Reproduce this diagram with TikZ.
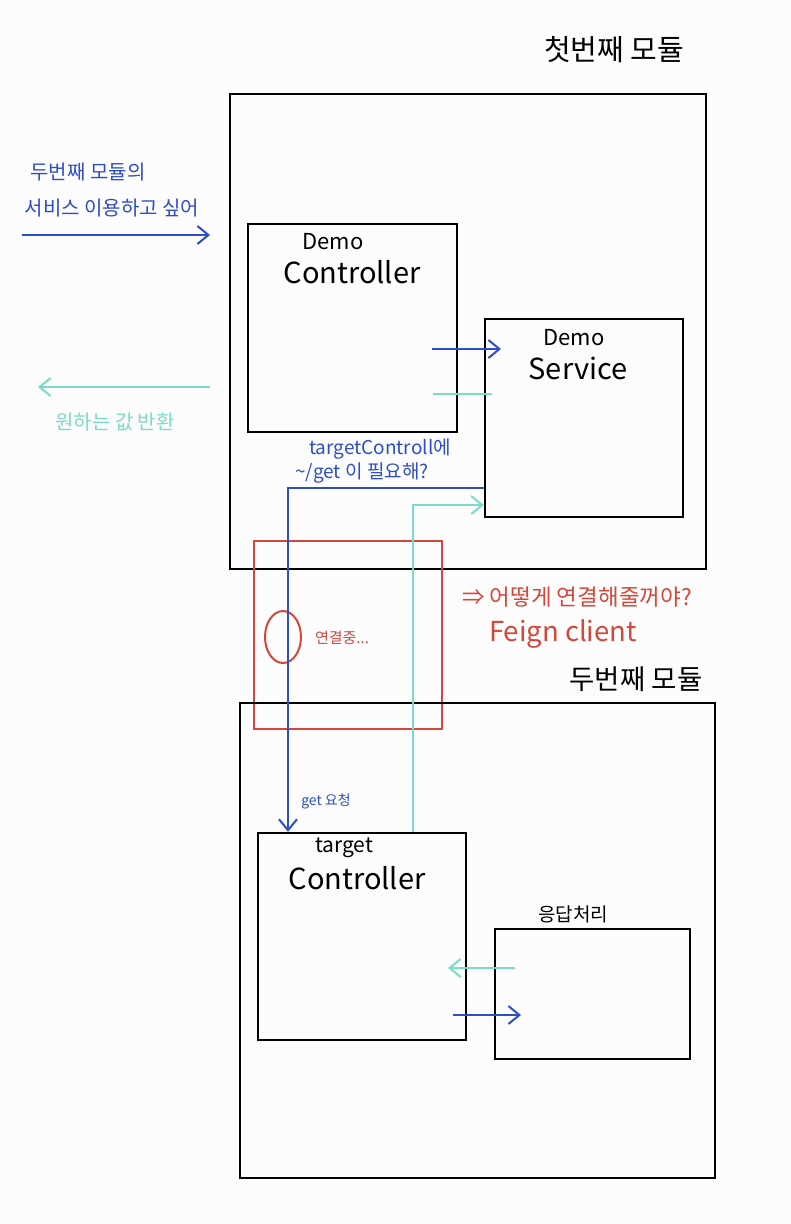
\documentclass[tikz,border=0pt]{standalone}
\usepackage{fontspec}
\setmainfont{Noto Sans CJK KR}
\usetikzlibrary{arrows.meta,calc,shapes.geometric}
\definecolor{pblue}{HTML}{2F4EC4}
\definecolor{pteal}{HTML}{7ADBC9}
\definecolor{pred}{HTML}{D2483B}
\definecolor{bg}{HTML}{FCFCFC}
\tikzset{
  box/.style={draw=black, line width=2.4pt, inner sep=0pt, rectangle},
  redbox/.style={draw=pred, line width=2pt, inner sep=0pt},
  barb/.style={-{Straight Barb[length=11pt,width=18pt,line width=2pt]}},
  bl/.style={draw=pblue, line width=2pt},
  tl/.style={draw=pteal, line width=2pt},
  lbl/.style={inner sep=0pt},
  blk/.style={lbl, text=black},
  blu/.style={lbl, text=pblue},
  tea/.style={lbl, text=pteal},
  rd/.style={lbl, text=pred},
}
\begin{document}
\begin{tikzpicture}[x=1pt,y=-1pt]
\fill[bg] (0,0) rectangle (791,1224);
\useasboundingbox (0,0) rectangle (791,1224);

% boxes
\node[box, minimum width=476pt, minimum height=475pt] (m1) at (468,331.5) {};
\node[box, minimum width=209pt, minimum height=208pt] (dc) at (352.5,328) {};
\node[box, minimum width=198pt, minimum height=198pt] (ds) at (584,418) {};
\node[redbox, minimum width=188pt, minimum height=188pt] (rb) at (348,635) {};
\node[draw=pred, line width=2pt, ellipse, inner sep=0pt, minimum width=36pt, minimum height=52pt] (el) at (283,637) {};
\node[box, minimum width=475pt, minimum height=475pt] (m2) at (477.5,940.5) {};
\node[box, minimum width=208pt, minimum height=207pt] (tc) at (362,936.5) {};
\node[box, minimum width=195pt, minimum height=130pt] (rp) at (592.5,994) {};

% texts
\node[blk, font=\fontsize{29}{31}\selectfont] (t1) at (614,50) {첫번째 모듈};
\node[blu, font=\fontsize{20}{22}\selectfont] (q1) at (88,172) {두번째 모듈의};
\node[blu, font=\fontsize{20}{22}\selectfont] (q2) at (112,208) {서비스 이용하고 싶어};
\node[tea, font=\fontsize{20}{22}\selectfont] (r1) at (115,422) {원하는 값 반환};
\node[blk, font=\fontsize{22}{24}\selectfont] (dct1) at (333,242) {Demo};
\node[blk, font=\fontsize{29}{31}\selectfont] (dct2) at (352,272) {Controller};
\node[blk, font=\fontsize{22}{24}\selectfont] (dst1) at (574,338) {Demo};
\node[blk, font=\fontsize{29}{31}\selectfont] (dst2) at (578,368) {Service};
\node[blu, font=\fontsize{19}{21}\selectfont] (n1) at (380,449) {targetControll에};
\node[blu, font=\fontsize{19}{21}\selectfont] (n2) at (362,473) {\textasciitilde/get 이 필요해?};
\node[rd, font=\fontsize{15}{17}\selectfont] (cn) at (342,638) {연결중...};
\node[rd, font=\fontsize{22.5}{24}\selectfont] (h1) at (577,597) {⇒ 어떻게 연결해줄꺼야?};
\node[rd, font=\fontsize{27.5}{29}\selectfont] (h2) at (563,634) {Feign client};
\node[blk, font=\fontsize{27.5}{29}\selectfont] (t2) at (636,679) {두번째 모듈};
\node[blu, font=\fontsize{14}{16}\selectfont] (g1) at (326,801) {get 요청};
\node[blk, font=\fontsize{21}{23}\selectfont] (tct1) at (344,848) {target};
\node[blk, font=\fontsize{29}{31}\selectfont] (tct2) at (357,878) {Controller};
\node[blk, font=\fontsize{19}{21}\selectfont] (rpt) at (573,914) {응답처리};

% coordinates
\coordinate (inS) at (22,235);
\coordinate (inE) at (210,235);
\coordinate (outS) at (210,387);
\coordinate (outE) at (38,387);
\coordinate (c1) at (432,349);
\coordinate (c2) at (501,349);
\coordinate (c3) at (433,394);
\coordinate (c4) at (492,394);
\coordinate (bx) at (288,488);
\coordinate (tx) at (413,505);
\coordinate (d1) at (515,968);
\coordinate (d2) at (448,968);
\coordinate (d3) at (453,1015);
\coordinate (d4) at (521,1015);

% connectors
\draw[bl, barb] (inS) -- (inE);
\draw[tl, barb] (outS) -- (outE);
\draw[bl, barb] (c1) -- (c2);
\draw[tl] (c3) -- (c4);
\draw[bl, barb] (ds.west |- bx) -- (bx) -- (bx |- tc.north);
\draw[tl, barb] (tc.north -| tx) -- (tx) -- (tx -| ds.west);
\draw[tl, barb] (d1) -- (d2);
\draw[bl, barb] (d3) -- (d4);
\end{tikzpicture}
\end{document}
